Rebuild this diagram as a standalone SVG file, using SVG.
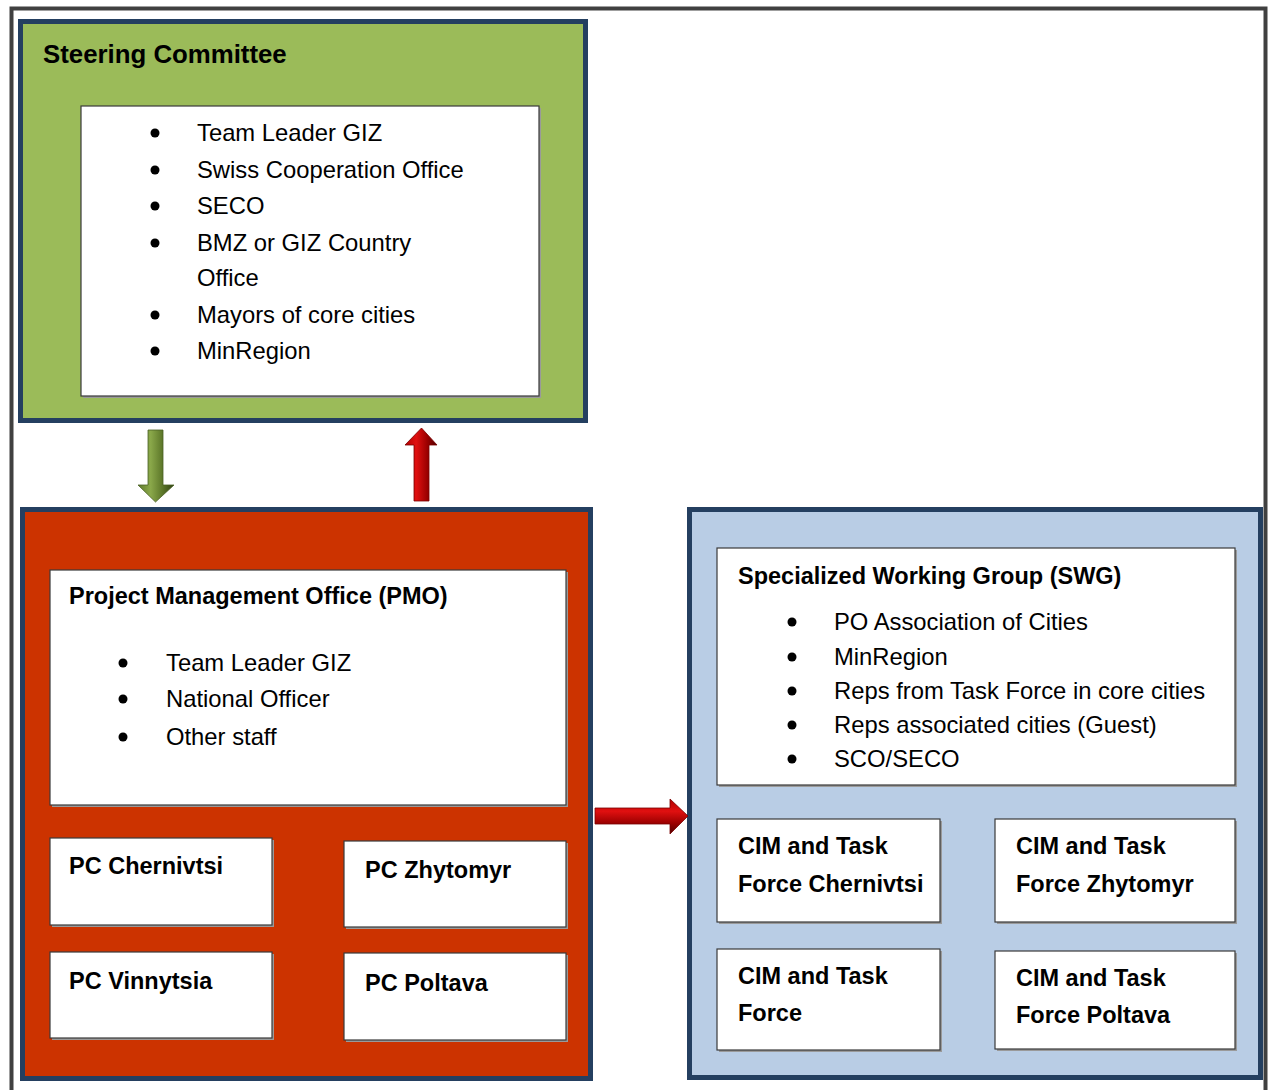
<svg xmlns="http://www.w3.org/2000/svg" width="1269" height="1090" viewBox="0 0 1269 1090">
<defs>
<style>
text{font-family:"Liberation Sans",Arial,sans-serif;fill:#000}
.b{font-weight:bold;font-size:23.5px}
.r{font-size:23.8px}
.t{font-weight:bold;font-size:25.8px}
.box{fill:#fff;stroke:#3a3a3a;stroke-width:1.2}
.sh{fill:#9a9a9a}
.panel{stroke:#243F60;stroke-width:5}
</style>
<linearGradient id="gG" x1="0" y1="0" x2="1" y2="0">
<stop offset="0" stop-color="#5f7a2c"/><stop offset="0.35" stop-color="#8aa84a"/><stop offset="0.7" stop-color="#5a7427"/><stop offset="1" stop-color="#2f4014"/>
</linearGradient>
<linearGradient id="gR" x1="0" y1="0" x2="1" y2="0">
<stop offset="0" stop-color="#b00000"/><stop offset="0.35" stop-color="#e01010"/><stop offset="0.7" stop-color="#9a0000"/><stop offset="1" stop-color="#500000"/>
</linearGradient>
<linearGradient id="gRh" x1="0" y1="0" x2="0" y2="1">
<stop offset="0" stop-color="#b00000"/><stop offset="0.35" stop-color="#e01010"/><stop offset="0.7" stop-color="#9a0000"/><stop offset="1" stop-color="#500000"/>
</linearGradient>
</defs>
<rect width="1269" height="1090" fill="#fff"/>
<path d="M11.5,1095 V8.5 H1265.5 V1095" fill="none" stroke="#404040" stroke-width="4"/>

<g id="steering-committee">
<rect class="panel" x="20.5" y="21.5" width="565" height="399" fill="#9BBB59"/>
<text class="t" x="43" y="63">Steering Committee</text>
<rect class="sh" x="83" y="108" width="458" height="290"/>
<rect class="box" x="81" y="106" width="458" height="290"/>
<circle cx="155" cy="133" r="4.5"/><text class="r" x="197" y="141">Team Leader GIZ</text>
<circle cx="155" cy="170" r="4.5"/><text class="r" x="197" y="178">Swiss Cooperation Office</text>
<circle cx="155" cy="206" r="4.5"/><text class="r" x="197" y="214">SECO</text>
<circle cx="155" cy="243" r="4.5"/><text class="r" x="197" y="251">BMZ or GIZ Country</text>
<text class="r" x="197" y="286">Office</text>
<circle cx="155" cy="315" r="4.5"/><text class="r" x="197" y="323">Mayors of core cities</text>
<circle cx="155" cy="351" r="4.5"/><text class="r" x="197" y="359">MinRegion</text>
</g>

<g id="pmo-panel">
<rect class="panel" x="22.5" y="509.5" width="568" height="569" fill="#CC3300"/>
<g id="pmo">
<rect class="sh" x="52" y="572" width="516" height="235"/>
<rect class="box" x="50" y="570" width="516" height="235"/>
<text class="b" x="69" y="604">Project Management Office (PMO)</text>
<circle cx="123" cy="663" r="4.5"/><text class="r" x="166" y="671">Team Leader GIZ</text>
<circle cx="123" cy="699" r="4.5"/><text class="r" x="166" y="707">National Officer</text>
<circle cx="123" cy="737" r="4.5"/><text class="r" x="166" y="745">Other staff</text>
</g>
<g id="pc-chernivtsi">
<rect class="sh" x="52" y="840" width="222" height="87"/>
<rect class="box" x="50" y="838" width="222" height="87"/>
<text class="b" x="69" y="874">PC Chernivtsi</text>
</g>
<g id="pc-zhytomyr">
<rect class="sh" x="346" y="843" width="222" height="86"/>
<rect class="box" x="344" y="841" width="222" height="86"/>
<text class="b" x="365" y="878">PC Zhytomyr</text>
</g>
<g id="pc-vinnytsia">
<rect class="sh" x="52" y="954" width="222" height="86"/>
<rect class="box" x="50" y="952" width="222" height="86"/>
<text class="b" x="69" y="989">PC Vinnytsia</text>
</g>
<g id="pc-poltava">
<rect class="sh" x="346" y="955" width="222" height="87"/>
<rect class="box" x="344" y="953" width="222" height="87"/>
<text class="b" x="365" y="991">PC Poltava</text>
</g>
</g>

<g id="swg-panel">
<rect class="panel" x="689.5" y="509.5" width="571" height="568" fill="#B9CDE5"/>
<g id="swg">
<rect class="sh" x="719" y="550" width="518" height="237"/>
<rect class="box" x="717" y="548" width="518" height="237"/>
<text class="b" x="738" y="584">Specialized Working Group (SWG)</text>
<circle cx="792" cy="622" r="4.5"/><text class="r" x="834" y="630">PO Association of Cities</text>
<circle cx="792" cy="657" r="4.5"/><text class="r" x="834" y="665">MinRegion</text>
<circle cx="792" cy="691" r="4.5"/><text class="r" x="834" y="699">Reps from Task Force in core cities</text>
<circle cx="792" cy="725" r="4.5"/><text class="r" x="834" y="733">Reps associated cities (Guest)</text>
<circle cx="792" cy="759" r="4.5"/><text class="r" x="834" y="767">SCO/SECO</text>
</g>
<g id="cim-chernivtsi">
<rect class="sh" x="719" y="821" width="223" height="103"/>
<rect class="box" x="717" y="819" width="223" height="103"/>
<text class="b" x="738" y="854">CIM and Task</text>
<text class="b" x="738" y="892">Force Chernivtsi</text>
</g>
<g id="cim-zhytomyr">
<rect class="sh" x="997" y="821" width="240" height="103"/>
<rect class="box" x="995" y="819" width="240" height="103"/>
<text class="b" x="1016" y="854">CIM and Task</text>
<text class="b" x="1016" y="892">Force Zhytomyr</text>
</g>
<g id="cim-force">
<rect class="sh" x="719" y="951" width="223" height="101"/>
<rect class="box" x="717" y="949" width="223" height="101"/>
<text class="b" x="738" y="984">CIM and Task</text>
<text class="b" x="738" y="1021">Force</text>
</g>
<g id="cim-poltava">
<rect class="sh" x="997" y="953" width="240" height="98"/>
<rect class="box" x="995" y="951" width="240" height="98"/>
<text class="b" x="1016" y="986">CIM and Task</text>
<text class="b" x="1016" y="1023">Force Poltava</text>
</g>
</g>

<g id="connectors">
<path d="M148,430 H163 V485 H174 L155.5,502 L138,485 H148 Z" fill="url(#gG)" stroke="#4a6124" stroke-width="0.8"/>
<path d="M414,501 H429 V445 H437 L421.5,428 L405,445 H414 Z" fill="url(#gR)" stroke="#7a0000" stroke-width="0.8"/>
<path d="M595,808 H670 V799 L688,816 L670,834 V824 H595 Z" fill="url(#gRh)" stroke="#7a0000" stroke-width="0.8"/>
</g>
</svg>
